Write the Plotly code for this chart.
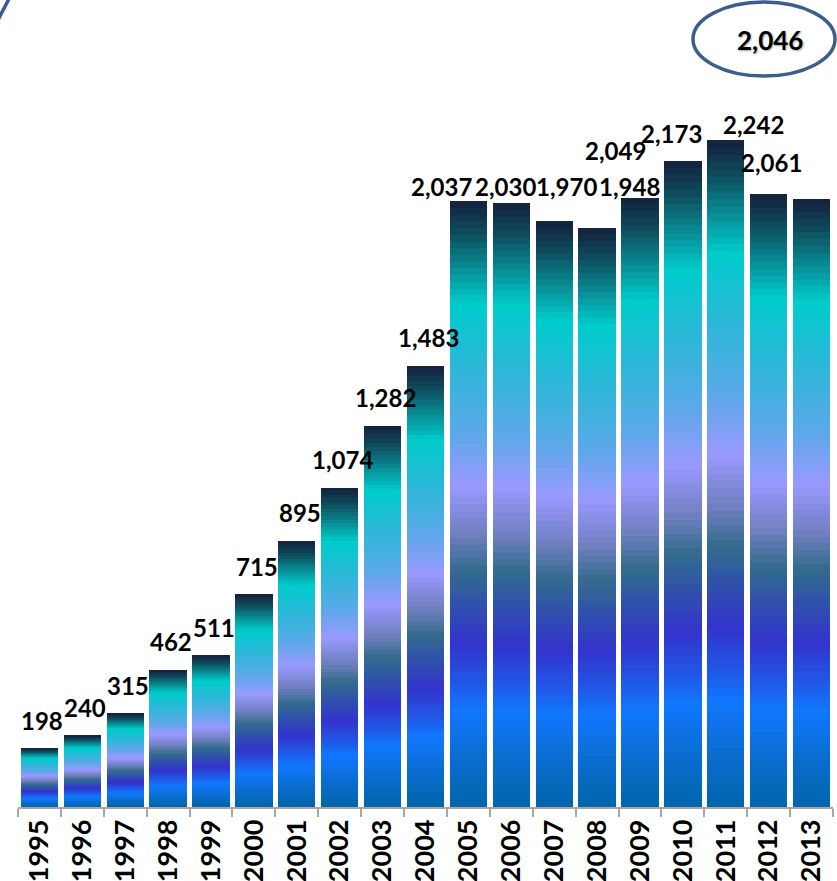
import numpy as np
import plotly.graph_objects as go

# Yearly totals
years = ["1995", "1996", "1997", "1998", "1999", "2000", "2001", "2002", "2003", "2004",
         "2005", "2006", "2007", "2008", "2009", "2010", "2011", "2012", "2013"]
values = [198, 240, 315, 462, 511, 715, 895, 1074, 1282, 1483,
          2037, 2030, 1970, 1948, 2049, 2173, 2242, 2061, 2046]
value_labels = [f"{v:,}" for v in values]

# Label placement relative to each bar top (pixels): (xshift, yshift)
label_shift = [(3, 28)] * 10 + [
    (-27, 15), (-6, 17), (12, 35), (32, 41), (-24, 47), (-11, 27), (28, 16), (3, 32),
]

# Vertical gradient used inside every bar (fraction from the top -> colour)
grad_pos = [0.00, 0.05, 0.11, 0.17, 0.27, 0.38, 0.47, 0.55, 0.61, 0.67, 0.73, 0.80, 0.84, 0.92, 1.00]
grad_col = ["#14203c", "#0e4a5c", "#078c94", "#00cccc", "#2ab8d8", "#5aa9e8", "#9999ff",
            "#6f7fc0", "#336b8c", "#2f4fae", "#3333cc", "#1f5ae8", "#1177ff", "#0a6dd0", "#0066aa"]

def hex_rgb(h):
    h = h.lstrip("#")
    return [int(h[i:i + 2], 16) for i in (0, 2, 4)]

rgb = np.array([hex_rgb(c) for c in grad_col], dtype=float)

def colour_at(f):
    r = np.interp(f, grad_pos, rgb[:, 0])
    g = np.interp(f, grad_pos, rgb[:, 1])
    b = np.interp(f, grad_pos, rgb[:, 2])
    return f"rgb({r:.0f},{g:.0f},{b:.0f})"

N_BANDS = 90
vals = np.array(values, dtype=float)

fig = go.Figure()
# Each bar is a stack of thin bands whose heights sum to the bar's value
for k in range(N_BANDS):
    f_from_top = 1.0 - (k + 0.5) / N_BANDS
    fig.add_trace(go.Bar(
        x=years,
        y=vals / N_BANDS,
        marker=dict(color=colour_at(f_from_top), line=dict(width=0)),
        showlegend=False,
        hoverinfo="skip",
    ))

label_font = dict(family="Lato", size=24, color="black", weight=700)

annotations = []
for i, (v, txt, (dx, dy)) in enumerate(zip(values[:-1], value_labels[:-1], label_shift)):
    annotations.append(dict(
        x=i, y=v, xref="x", yref="y", text=txt, showarrow=False,
        xanchor="center", yanchor="middle", xshift=dx, yshift=dy, font=label_font,
    ))

# Last year's value is shown inside the highlight ellipse
annotations.append(dict(
    x=0.9227, y=0.955, xref="paper", yref="paper", text=value_labels[-1], showarrow=False,
    xanchor="center", yanchor="middle",
    font=dict(family="Lato", size=26, color="black", weight=700,
              shadow="1px 1px 2px rgba(0,0,0,0.35)"),
))

shapes = [
    dict(type="circle", xref="paper", yref="paper",
         x0=0.8282, x1=1.0025, y0=0.9103, y1=1.0025,
         line=dict(color="#3b5e8c", width=3.5), fillcolor="rgba(0,0,0,0)"),
    dict(type="path", xref="paper", yref="paper",
         path="M -0.0085,1.0112 Q -0.0155,0.998 -0.0239,0.9813",
         line=dict(color="#3b5e8c", width=3.5)),
]

fig.update_layout(
    width=837, height=881,
    margin=dict(l=18, r=4, t=4, b=74),
    barmode="stack",
    bargap=0.13,
    paper_bgcolor="white",
    plot_bgcolor="white",
    showlegend=False,
    annotations=annotations,
    shapes=shapes,
    xaxis=dict(
        type="category",
        categoryorder="array", categoryarray=years,
        range=[-0.5, len(years) - 0.5], autorange=False,
        automargin=False,
        showline=True, linecolor="#a6a6a6", linewidth=1.5,
        ticks="outside", tickson="boundaries", ticklen=8, tickcolor="#a6a6a6", tickwidth=1.5,
        tickangle=-90,
        tickfont=dict(family="Lato", size=27, color="black", weight=700),
        showgrid=False, zeroline=False, fixedrange=True,
    ),
    yaxis=dict(visible=False, range=[0, 2700], autorange=False, automargin=False,
               showgrid=False, zeroline=False, fixedrange=True),
)

fig.write_html("out.html")
